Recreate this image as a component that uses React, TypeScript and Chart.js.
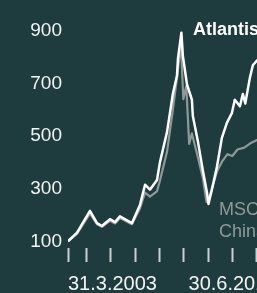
import React, { useEffect, useRef } from "react";
import { Chart, registerables } from "chart.js";

Chart.register(...registerables);

// Dates as decimal years (31.3.2003 = 2003.25)
const atlantisDates = [2003.25, 2003.62, 2004.15, 2004.44, 2004.64, 2004.97, 2005.18, 2005.38, 2005.87, 2006.2, 2006.41, 2006.61, 2006.9, 2007.02, 2007.31, 2007.55, 2007.72, 2007.76, 2007.9, 2007.96, 2008.13, 2008.33, 2008.37, 2008.58, 2008.78, 2008.95, 2009.01, 2009.15, 2009.36, 2009.56, 2009.77, 2009.97, 2010.09, 2010.3, 2010.42, 2010.52, 2010.71, 2010.83, 2011.0, 2011.2, 2011.5];
const atlantisValues = [100, 133, 216, 169, 158, 184, 173, 195, 169, 238, 315, 296, 333, 400, 515, 660, 730, 795, 893, 805, 696, 638, 576, 478, 369, 285, 242, 296, 384, 493, 551, 587, 638, 613, 660, 624, 722, 769, 787, 800, 780];

const msciDates = [2003.25, 2003.62, 2004.15, 2004.44, 2004.64, 2004.97, 2005.18, 2005.38, 2005.87, 2006.2, 2006.41, 2006.61, 2006.9, 2007.02, 2007.31, 2007.55, 2007.72, 2007.88, 2007.98, 2008.1, 2008.22, 2008.33, 2008.55, 2008.78, 2008.93, 2009.01, 2009.15, 2009.38, 2009.58, 2009.79, 2009.99, 2010.2, 2010.48, 2010.77, 2011.0, 2011.5];
const msciValues = [100, 128, 205, 165, 155, 178, 168, 188, 165, 225, 285, 270, 290, 330, 440, 600, 722, 850, 640, 690, 470, 510, 430, 340, 250, 255, 300, 369, 405, 431, 424, 449, 456, 475, 485, 480];

const yTickValues = [100, 300, 500, 700, 900];
const xTickValues = [2003.25, 2003.999, 2004.999, 2005.999, 2006.999, 2007.999, 2008.999, 2009.999, 2010.999, 2011.78];
const xTickLabels = ["31.3.2003", "", "", "", "", "", "", "", "", "30.6.2011"];

const seriesNames = ["Atlantis", "MSCI China"];

const BG = "#1e3b3d";

const labelPlugin = {
  id: "seriesLabels",
  afterDatasetsDraw(chart: any) {
    const ctx = chart.ctx;
    ctx.save();
    ctx.textBaseline = "alphabetic";
    ctx.textAlign = "left";
    ctx.fillStyle = "#ffffff";
    ctx.font = "bold 18px 'Liberation Sans', Arial, sans-serif";
    ctx.fillText(seriesNames[0], 193, 35);
    ctx.fillStyle = "#8e9a99";
    ctx.font = "18px 'Liberation Sans', Arial, sans-serif";
    const parts = seriesNames[1].split(" ");
    ctx.fillText(parts[0], 219, 215);
    ctx.fillText(parts[1], 219, 237);
    ctx.restore();
  },
};

export default function App() {
  const ref = useRef<HTMLCanvasElement>(null);
  useEffect(() => {
    if (!ref.current) return;
    const chart = new Chart(ref.current, {
      type: "line",
      data: {
        datasets: [
          {
            label: seriesNames[0],
            data: atlantisDates.map((d, i) => ({ x: d, y: atlantisValues[i] })),
            borderColor: "#ffffff",
            borderWidth: 2.5,
            pointRadius: 0,
            tension: 0,
            borderJoinStyle: "round",
          },
          {
            label: seriesNames[1],
            data: msciDates.map((d, i) => ({ x: d, y: msciValues[i] })),
            borderColor: "#8e9a99",
            borderWidth: 2.2,
            pointRadius: 0,
            tension: 0,
            borderJoinStyle: "round",
          },
        ],
      },
      options: {
        responsive: false,
        animation: false,
        layout: { padding: { top: 7, right: 24, left: 0, bottom: 0 } },
        plugins: { legend: { display: false }, tooltip: { enabled: false } },
        scales: {
          x: {
            type: "linear",
            min: 2003.25,
            max: 2011.78,
            afterFit: (s: any) => {
              s.height = 45;
            },
            afterBuildTicks: (s: any) => {
              s.ticks = xTickValues.map((v) => ({ value: v }));
            },
            border: { display: false },
            grid: {
              display: true,
              drawOnChartArea: false,
              drawTicks: true,
              tickLength: 14,
              tickWidth: 2,
              tickColor: "#c9d0cf",
            },
            ticks: {
              autoSkip: false,
              maxRotation: 0,
              align: "inner",
              padding: 10,
              color: "#f2f4f3",
              font: { family: "'Liberation Sans', Arial, sans-serif", size: 20 },
              callback: (v: any) => {
                const i = xTickValues.indexOf(Number(v));
                return i >= 0 ? xTickLabels[i] : "";
              },
            },
          },
          y: {
            min: 74.5,
            max: 951,
            afterFit: (s: any) => {
              s.width = 68;
            },
            afterBuildTicks: (s: any) => {
              s.ticks = yTickValues.map((v) => ({ value: v }));
            },
            border: { display: false },
            grid: { display: false, drawTicks: false },
            ticks: {
              padding: 6,
              color: "#f2f4f3",
              font: { family: "'Liberation Sans', Arial, sans-serif", size: 19 },
              callback: (v: any) => String(v),
            },
          },
        },
      },
      plugins: [labelPlugin],
    } as any);
    return () => chart.destroy();
  }, []);

  return (
    <div
      style={{
        position: "fixed",
        left: 0,
        top: 0,
        width: 257,
        height: 293,
        overflow: "hidden",
        background: BG,
      }}
    >
      <canvas ref={ref} width={300} height={293} style={{ display: "block" }} />
    </div>
  );
}
